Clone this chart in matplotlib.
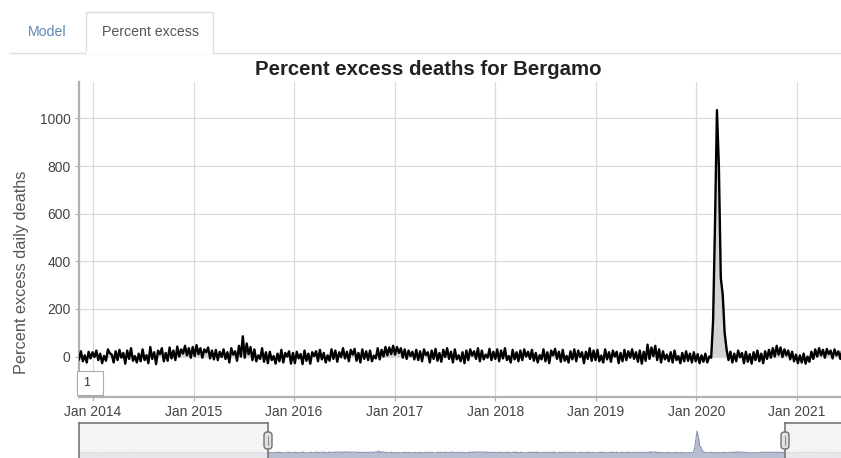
"""
Percent excess deaths for Bergamo: dygraph-style screenshot recreated
with matplotlib. Saves out.png at 841x458.
"""

import pandas as pd
import matplotlib
matplotlib.use('Agg')
import matplotlib.pyplot as plt
import matplotlib.dates as mdates
from matplotlib.patches import Rectangle, FancyBboxPatch
from matplotlib.lines import Line2D

plt.rcParams['font.family'] = ['Liberation Sans', 'DejaVu Sans']

TITLE   = 'Percent excess deaths for Bergamo'
Y_LABEL = 'Percent excess daily deaths'
TABS    = ['Model', 'Percent excess']
ROLL_PERIOD = '1'

# --------------------------------------------------------------------------- #
# Data: weekly values, first week = 2013-11-11
# --------------------------------------------------------------------------- #

SERIES_START = '2013-11-11'

wk_2013 = [-12, 22, -20, 5, -25, 20, -8]
wk_2014 = [18, -2, 25, -15, 12, -28, 3, -18, 30, 14, 8, -25, 22,
           -15, 28, -5, 15, -30, 25, -10, 35, -18, 2, -25, 12, -20,
           30, -15, 6, -28, 40, -10, 18, -32, 25, 10, 35, -20, 15,
           -18, 38, -8, 25, -15, 42, 0, 30, 12, 45, 5, 35, -5]
wk_2015 = [40, 2, 48, 10, 35, -5, 30, 18, 38, -8, 25, -12, 28,
           -15, 20, -2, 30, -10, 18, -25, 35, 8, 22, -18, 45, 0,
           85, -5, 55, 10, 40, -15, 30, -20, 5, -10, 35, -22, 18,
           -28, 20, -15, 2, -30, 12, -20, 28, -25, 15, 0, 22, -30]
wk_2016 = [15, -28, 20, -8, 10, -32, 25, -18, 12, -30, 18, 2, 22,
           -20, 28, -12, 15, -25, 5, -18, 30, -10, 25, -22, 18, -3,
           35, -8, 20, -20, 28, 8, 32, -18, 15, -25, 30, -10, 22,
           -15, 25, -20, 4, -8, 35, -12, 28, 0, 40, 5, 38, 10]
wk_2017 = [45, 8, 40, 15, 35, -5, 30, -10, 25, 2, 20, -12, 28,
           -15, 22, -20, 30, 6, 18, -25, 25, -10, 32, -18, 15, -22,
           28, -2, 35, -10, 20, -25, 30, -12, 5, -20, 18, -28, 25,
           -15, 30, 4, 22, -10, 35, -20, 25, -12, 8, -5, 32, -15, 20]
wk_2018 = [-10, 30, -20, 25, -8, 35, -15, 2, -25, 28, -12, 18, -20,
           25, -15, 30, 0, 20, -10, 28, -18, 15, -25, 6, -12, 30,
           -20, 18, -28, 25, 5, 32, -10, 20, -22, 28, -18, 3, -25,
           22, -12, 30, -20, 25, -2, 18, -28, 20, -10, 35, -18, 25]
wk_2019 = [-15, 28, -20, 4, -25, 30, -12, 18, -22, 25, 0, 20, -28,
           15, -20, 28, -15, 22, -5, 30, -10, 18, -22, 25, -30, 20,
           -18, 50, -10, 38, 2, 45, -15, 30, -25, 22, -12, 8, -20,
           18, -25, 25, -15, 2, -28, 15, -20, 22, -18, 12, -25, 18]
wk_2020 = [-20, 10, -28, 5, -22, 12, -25, 0, -5, 150, 560, 1035, 800,
           330, 260, 100, 30, -15, 20, -25, 12, -20, 25, -3, 15, -28,
           20, -22, 10, -30, 18, -15, 25, -20, 12, -28, 22, -10, 28,
           -5, 35, 0, 45, 8, 38, -2, 30, 5, 25, -12, 20, -20]
wk_2021 = [8, -28, 5, -25, 12, -30, 0, -22, 20, -10, 30, 0, 35, 5,
           28, -5, 32, 10, 25, -8, 30, 5, 22, -10, 28, 0, 20, -12]

# coarse values for the range-selector overview outside the zoom window
pre_window  = [5, -3, 8, 2, -6, 10, 4, -2, 6, 0, -4, 7, 3, -5, 9, 1, -3,
               6, 2, -7, 5, 8, -2, 4, 0, -5, 6, 3, -4, 7, 1, -2, 5, 0]
post_window = [10, 4, -3, 12, 8, 15, 6, 2, -4, 5, 3, 0]

WINDOW     = ('2013-11-11', '2021-07-05')
FULL_RANGE = ('2011-01-24', '2022-06-10')
Y_TICKS    = [0, 200, 400, 600, 800, 1000]
YEARS      = list(range(2014, 2022))

# --------------------------------------------------------------------------- #
# Layout helpers (pixel -> figure fraction)
# --------------------------------------------------------------------------- #

W, H = 841, 458


def fx(px):
    return px / W


def fy(py):
    return 1 - py / H


def main():
    vals = (wk_2013 + wk_2014 + wk_2015 + wk_2016 + wk_2017 + wk_2018
            + wk_2019 + wk_2020 + wk_2021)
    dates = pd.date_range(SERIES_START, periods=len(vals), freq='7D')

    pre_dates  = pd.date_range(FULL_RANGE[0], periods=len(pre_window), freq='30D')
    post_dates = pd.date_range('2021-07-12', periods=len(post_window), freq='30D')
    all_dates = list(pre_dates) + list(dates) + list(post_dates)
    all_vals  = pre_window + vals + post_window

    fig = plt.figure(figsize=(W / 100, H / 100), dpi=100, facecolor='white')

    # ---- tabs ------------------------------------------------------------ #
    fig.add_artist(Line2D([fx(10), fx(841)], [fy(53), fy(53)],
                          color='#dddddd', lw=1))
    fig.add_artist(Line2D([fx(86), fx(86), fx(213), fx(213)],
                          [fy(53), fy(12), fy(12), fy(53)],
                          color='#dddddd', lw=1))
    fig.add_artist(Line2D([fx(87), fx(212)], [fy(53), fy(53)],
                          color='white', lw=1.5))
    fig.text(fx(47), fy(32), TABS[0], fontsize=10.2, color='#5f86b3',
             ha='center', va='center')
    fig.text(fx(150), fy(32), TABS[1], fontsize=10.2, color='#555555',
             ha='center', va='center')

    fig.text(fx(428), fy(75), TITLE, fontsize=14.7, fontweight='bold',
             color='#222222', ha='center', va='baseline')

    # ---- main plot -------------------------------------------------------- #
    ax = fig.add_axes([fx(79), fy(397), (848 - 79) / W, (397 - 82) / H])
    ax.fill_between(dates, 0, vals, color='#d4d4d4', lw=0, zorder=2)
    ax.plot(dates, vals, color='black', lw=1.7, zorder=3)

    ax.set_xlim(pd.Timestamp(WINDOW[0]), pd.Timestamp(WINDOW[1]))
    ax.set_ylim(-170, 1153)
    ax.set_yticks(Y_TICKS)
    ax.set_xticks([pd.Timestamp(f'{y}-01-01') for y in YEARS])
    ax.xaxis.set_major_formatter(mdates.DateFormatter('%b %Y'))

    ax.grid(color='#dadada', lw=0.9)
    ax.set_axisbelow(True)
    for s in ('top', 'right'):
        ax.spines[s].set_visible(False)
    for s in ('left', 'bottom'):
        ax.spines[s].set_color('#b0b0b0')
        ax.spines[s].set_linewidth(1.6)
    ax.tick_params(labelsize=10, labelcolor='#444444', color='#b0b0b0',
                   length=3, pad=3)

    fig.text(fx(22), fy(272), Y_LABEL, rotation=90, fontsize=11.7,
             color='#555555', ha='center', va='center')

    # roll period box
    fig.add_artist(Rectangle((fx(77), fy(395)), fx(103) - fx(77),
                             fy(371) - fy(395), transform=fig.transFigure,
                             facecolor='white', edgecolor='#aaaaaa', lw=0.8))
    fig.text(fx(87), fy(383), ROLL_PERIOD, fontsize=9, color='#333333',
             ha='center', va='center')

    # ---- range selector --------------------------------------------------- #
    mini = fig.add_axes([fx(79), fy(470), (848 - 79) / W, (470 - 423) / H])
    mini.axis('off')
    mini.set_xlim(pd.Timestamp(FULL_RANGE[0]), pd.Timestamp(FULL_RANGE[1]))
    mini.set_ylim(-837, 1429)
    mini.fill_between(all_dates, -2000, all_vals, color='#b6bed0', lw=0)
    mini.plot(all_dates, all_vals, color='#8a95b0', lw=0.8)

    w0, w1 = pd.Timestamp(WINDOW[0]), pd.Timestamp(WINDOW[1])
    f0, f1 = pd.Timestamp(FULL_RANGE[0]), pd.Timestamp(FULL_RANGE[1])
    mini.axvspan(f0, w0, color='#f2f2f2', alpha=0.8, zorder=4, lw=0)
    mini.axvspan(w1, f1, color='#f2f2f2', alpha=0.8, zorder=4, lw=0)
    tr = mini.get_xaxis_transform()
    kw = dict(color='#777777', lw=1.2, transform=tr, clip_on=False, zorder=5)
    mini.plot([f0, w0], [1, 1], **kw)
    mini.plot([w1, f1], [1, 1], **kw)
    mini.plot([f0, f0], [0, 1], **kw)
    mini.plot([w0, w0], [0, 1], **kw)
    mini.plot([w1, w1], [0, 1], **kw)

    for hx in (268, 785):
        fig.add_artist(FancyBboxPatch(
            (fx(hx - 4), fy(449)), fx(8), fy(432) - fy(449),
            boxstyle='round,pad=0,rounding_size=%f' % fx(3.5),
            mutation_aspect=W / H, transform=fig.transFigure,
            facecolor='#e2e2e2', edgecolor='#707070', lw=1, zorder=6))
        fig.add_artist(Line2D([fx(hx), fx(hx)], [fy(436), fy(445)],
                              color='#909090', lw=0.8, zorder=7))

    fig.savefig('out.png', dpi=100, facecolor='white')


if __name__ == '__main__':
    main()
